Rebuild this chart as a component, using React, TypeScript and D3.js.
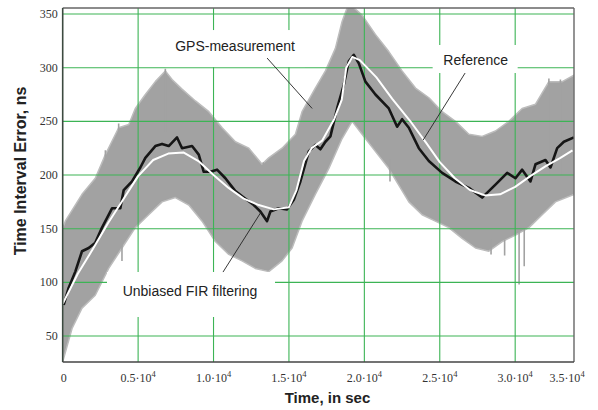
import * as d3 from 'd3';
import * as React from 'react';

// time axis, seconds
const xTicks = [0, 5000, 10000, 15000, 20000, 25000, 30000, 35000];
const yTicks = [50, 100, 150, 200, 250, 300, 350];

// GPS measurement band: upper / lower envelopes [t, ns]
const gpsUpper: [number, number][] = [
    [0, 150], [170, 157], [1280, 182], [2160, 197], [2830, 219], [3710, 244], [4380, 247],
    [4815, 262], [5480, 275], [6140, 287], [6805, 297], [7250, 289], [7910, 280], [8800, 269],
    [9690, 259], [10570, 244], [11450, 231], [12340, 225], [13220, 210], [13660, 216],
    [14545, 225], [15430, 238], [15870, 259], [16750, 281], [17420, 297], [18080, 318],
    [18525, 343], [18970, 360], [19850, 349], [20730, 331], [21620, 315], [22500, 297],
    [23390, 281], [24280, 272], [25160, 259], [26040, 250], [26930, 238], [27810, 236],
    [28690, 241], [29580, 250], [30460, 262], [31350, 266], [32235, 287], [33120, 287],
    [33900, 293],
];
const gpsLower: [number, number][] = [
    [0, 26], [620, 57], [1280, 76], [2160, 88], [3050, 113], [3930, 132], [4815, 151],
    [5700, 163], [6590, 175], [7470, 179], [8360, 172], [9240, 157], [10120, 138],
    [11010, 126], [11890, 120], [12770, 113], [13660, 110], [14545, 120], [15210, 132],
    [15870, 157], [16750, 182], [17640, 206], [18525, 234], [19190, 250], [19850, 238],
    [20730, 222], [21620, 206], [22950, 175], [23830, 163], [24710, 157], [25600, 151],
    [26480, 141], [27370, 132], [28255, 129], [29140, 138], [30020, 144], [30910, 151],
    [31790, 163], [32670, 175], [33900, 182],
];
// single noisy excursions of the measurement [t, low, high]
const gpsSpikes: [number, number, number][] = [
    [2830, 180, 223], [3710, 200, 248], [3930, 120, 140], [6805, 240, 299], [13300, 150, 212],
    [21700, 194, 215], [28400, 126, 140], [29300, 125, 140], [30260, 98, 150], [30600, 115, 150],
    [32235, 200, 290], [33000, 200, 289],
];

// unbiased FIR filtering estimate [t, ns]
const firLine: [number, number][] = [
    [66, 79], [398, 95], [835, 110], [1280, 129], [1724, 132], [2163, 137], [2607, 151],
    [3270, 169], [3820, 169], [4046, 186], [4596, 194], [5147, 207], [5479, 216], [6142, 227],
    [6586, 229], [7030, 227], [7581, 235], [7913, 225], [8576, 227], [9020, 219], [9352, 203],
    [9790, 203], [10234, 205], [10785, 197], [11448, 185], [12005, 179], [12668, 172],
    [13106, 166], [13550, 157], [13769, 166], [14326, 169], [14877, 168], [15321, 177],
    [15759, 194], [16316, 222], [16754, 228], [17086, 224], [17418, 231], [17749, 236],
    [18193, 262], [18638, 284], [18969, 306], [19301, 312], [19633, 304], [20071, 287],
    [20734, 275], [21622, 262], [22173, 245], [22505, 252], [22949, 244], [23612, 225],
    [24276, 213], [25158, 202], [26040, 194], [26929, 188], [27811, 179], [28693, 191],
    [29469, 202], [30019, 197], [30464, 205], [31015, 194], [31346, 210], [32009, 214],
    [32341, 207], [32785, 225], [33229, 231], [33893, 235],
];

// reference time error [t, ns]
const refLine: [number, number][] = [
    [0, 80], [1000, 108], [2000, 131], [3000, 155], [4000, 177], [5000, 199], [6000, 214],
    [7000, 220], [8000, 221], [9000, 213], [10000, 200], [11000, 188], [12000, 178],
    [13000, 172], [14000, 168], [15000, 170], [15500, 186], [16000, 213], [16500, 225],
    [17200, 232], [18000, 252], [18500, 270], [18800, 300], [19200, 310], [19700, 307],
    [20800, 291], [21850, 271], [23000, 251], [24100, 230], [25000, 212], [26000, 197],
    [27000, 186], [28000, 181], [29000, 182], [30000, 189], [31000, 199], [32000, 208],
    [33000, 216], [33800, 223],
];

// callouts: text at (t, v), leader from -> to in data units
const callouts = [
    {text: 'GPS-measurement', at: [11430, 315.5], pad: [70, 21, 70, 16], from: [13550, 309], to: [16540, 262]},
    {text: 'Reference', at: [27380, 302.5], pad: [43, 20, 42, 8], from: [26680, 295], to: [23900, 232.6]},
    {text: 'Unbiased FIR filtering', at: [8440, 87.3], pad: [83, 24, 85, 21], from: [10630, 109.6], to: [13150, 165.5]},
];

const serif = '"Liberation Serif", "Times New Roman", serif';
const sans = '"Liberation Sans", Arial, sans-serif';

export default function App() {
    const width = 598;
    const height = 410;
    const plot = {left: 62.7, right: 574, top: 8, bottom: 362};

    const x = d3.scaleLinear().domain([0, 33900]).range([plot.left, plot.right]);
    const y = d3.scaleLinear().domain([25.8, 355.6]).range([plot.bottom, plot.top]);

    const line = d3.line<[number, number]>()
        .x((d) => x(d[0]))
        .y((d) => y(d[1]));

    const band = line([...gpsUpper, ...gpsLower.slice().reverse()]) + 'Z';

    const grid = '#3cb455';
    const gray = '#a2a2a2';

    return (
        <svg width={width} height={height} style={{position: 'absolute', left: 0, top: 0}}>
            <defs>
                <clipPath id='plot-clip'>
                    <rect x={plot.left} y={plot.top} width={plot.right - plot.left} height={plot.bottom - plot.top} />
                </clipPath>
            </defs>
            <rect x={0} y={0} width={width} height={height} fill='white' />

            <g clipPath='url(#plot-clip)'>
                <path d={band} fill={gray} stroke='#bcbcbc' strokeWidth={1.5} strokeLinejoin='round' />
                {gpsSpikes.map(([t, lo, hi], i) => (
                    <line key={i} x1={x(t)} x2={x(t)} y1={y(lo)} y2={y(hi)} stroke={gray} strokeWidth={1.6} />
                ))}
            </g>

            <g className='grid'>
                {yTicks.map((v) => (
                    <line key={v} x1={plot.left} x2={plot.right} y1={y(v)} y2={y(v)} stroke={grid} strokeWidth={1.1} />
                ))}
                {xTicks.filter((t) => t > 0 && x(t) < plot.right - 10).map((t) => (
                    <line key={t} x1={x(t)} x2={x(t)} y1={plot.top} y2={plot.bottom} stroke={grid} strokeWidth={1.1} />
                ))}
            </g>

            <g clipPath='url(#plot-clip)'>
                <path d={line(firLine) || ''} fill='none' stroke='#161616' strokeWidth={2.6} strokeLinejoin='round' />
                <path d={line(refLine) || ''} fill='none' stroke='white' strokeWidth={2} strokeLinejoin='round' />
            </g>

            {callouts.map((c) => {
                const cx = x(c.at[0]);
                const cy = y(c.at[1]);
                return (
                    <g key={c.text}>
                        <rect x={cx - c.pad[0]} y={cy - c.pad[1]} width={c.pad[0] + c.pad[2]} height={c.pad[1] + c.pad[3]} fill='white' />
                        <line x1={x(c.from[0])} y1={y(c.from[1])} x2={x(c.to[0])} y2={y(c.to[1])} stroke='#222' strokeWidth={0.9} />
                        <text x={cx} y={cy} textAnchor='middle' fontFamily={sans} fontSize={14} fill='#222'>{c.text}</text>
                    </g>
                );
            })}

            <g className='frame' fill='none'>
                <line x1={plot.left} x2={plot.right} y1={plot.top} y2={plot.top} stroke='#666' strokeWidth={1.4} />
                <line x1={plot.right} x2={plot.right} y1={plot.top} y2={plot.bottom} stroke='#666' strokeWidth={1.4} />
                <line x1={plot.left} x2={plot.left} y1={plot.top} y2={plot.bottom} stroke='#3c4a40' strokeWidth={1.6} />
                <line x1={plot.left} x2={plot.right} y1={plot.bottom} y2={plot.bottom} stroke='#444' strokeWidth={1.6} />
            </g>

            <g className='y-axis' fontFamily={serif} fontSize={12} fill='#333'>
                {yTicks.map((v) => (
                    <text key={v} x={plot.left - 5} y={y(v) + 4} textAnchor='end'>{v}</text>
                ))}
            </g>

            <g className='x-axis' fontFamily={serif} fontSize={12} fill='#333'>
                {xTicks.map((t) => {
                    const px = Math.min(x(t), plot.right - 7);
                    if (t === 0) {
                        return <text key={t} x={px + 1} y={382} textAnchor='middle'>0</text>;
                    }
                    return (
                        <text key={t} x={px} y={382} textAnchor='middle'>
                            {`${(t / 1e4).toFixed(1)}·10`}
                            <tspan dy={-5} fontSize={8.5}>4</tspan>
                        </text>
                    );
                })}
            </g>

            <text x={327.5} y={403} textAnchor='middle' fontFamily={sans} fontWeight='bold' fontSize={15} fill='#222'>
                Time, in sec
            </text>
            <text transform={`translate(26,171) rotate(-90)`} textAnchor='middle' fontFamily={sans} fontWeight='bold' fontSize={16} fill='#222'>
                Time Interval Error, ns
            </text>
        </svg>
    );
}
